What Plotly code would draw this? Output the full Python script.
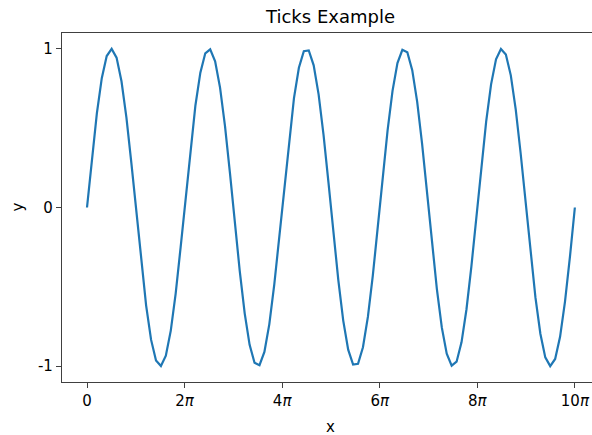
import plotly.graph_objects as go

x_vals = [0, 0.317, 0.635, 0.952, 1.269, 1.587, 1.904, 2.221, 2.539, 2.856,
          3.173, 3.491, 3.808, 4.125, 4.443, 4.760, 5.077, 5.395, 5.712, 6.029,
          6.347, 6.664, 6.981, 7.299, 7.616, 7.933, 8.251, 8.568, 8.885, 9.203,
          9.520, 9.837, 10.155, 10.472, 10.789, 11.107, 11.424, 11.741, 12.059, 12.376,
          12.693, 13.011, 13.328, 13.645, 13.963, 14.280, 14.597, 14.915, 15.232, 15.549,
          15.867, 16.184, 16.501, 16.819, 17.136, 17.453, 17.771, 18.088, 18.405, 18.723,
          19.040, 19.357, 19.675, 19.992, 20.309, 20.627, 20.944, 21.261, 21.579, 21.896,
          22.213, 22.531, 22.848, 23.165, 23.483, 23.800, 24.117, 24.435, 24.752, 25.069,
          25.387, 25.704, 26.021, 26.339, 26.656, 26.973, 27.291, 27.608, 27.925, 28.243,
          28.560, 28.877, 29.195, 29.512, 29.829, 30.147, 30.464, 30.781, 31.099, 31.416]

y_vals = [0.000, 0.312, 0.593, 0.815, 0.955, 1.000, 0.945, 0.796, 0.567, 0.282,
          -0.032, -0.342, -0.618, -0.833, -0.964, -0.999, -0.934, -0.776, -0.541, -0.251,
          0.063, 0.372, 0.643, 0.850, 0.972, 0.997, 0.922, 0.756, 0.514, 0.220,
          -0.095, -0.401, -0.667, -0.866, -0.979, -0.994, -0.910, -0.735, -0.486, -0.189,
          0.127, 0.430, 0.690, 0.881, 0.985, 0.990, 0.896, 0.713, 0.458, 0.158,
          -0.158, -0.458, -0.713, -0.896, -0.990, -0.985, -0.881, -0.690, -0.430, -0.127,
          0.189, 0.486, 0.735, 0.910, 0.994, 0.979, 0.866, 0.667, 0.401, 0.095,
          -0.220, -0.514, -0.756, -0.922, -0.997, -0.972, -0.850, -0.643, -0.372, -0.063,
          0.251, 0.541, 0.776, 0.934, 0.999, 0.964, 0.833, 0.618, 0.342, 0.032,
          -0.282, -0.567, -0.796, -0.945, -1.000, -0.955, -0.815, -0.593, -0.312, 0.000]

x_tick_vals = [0, 6.2832, 12.5664, 18.8496, 25.1327, 31.4159]
x_tick_text = ["0", "2<i>π</i>", "4<i>π</i>", "6<i>π</i>", "8<i>π</i>", "10<i>π</i>"]
y_tick_vals = [1, 0, -1]
y_tick_text = ["1", "0", "-1"]

FONT = "DejaVu Sans"
AX_COLOR = "#404040"

fig = go.Figure()
fig.add_trace(go.Scatter(x=x_vals, y=y_vals, mode="lines",
                         line=dict(color="#1f77b4", width=2.2),
                         hoverinfo="skip", showlegend=False))

fig.update_layout(
    width=592, height=435,
    margin=dict(l=62, r=0, t=33, b=53),
    paper_bgcolor="white", plot_bgcolor="white",
    font=dict(family=FONT, size=15, color="black"),
    title=dict(text="Ticks Example", font=dict(family=FONT, size=18, color="black"),
               xref="container", x=330.5 / 592, xanchor="center",
               yref="container", y=1 - 17 / 435, yanchor="middle"),
    xaxis=dict(range=[-1.61, 32.52], tickmode="array", tickvals=x_tick_vals,
               ticktext=x_tick_text, showgrid=False, zeroline=False,
               showline=True, linecolor=AX_COLOR, linewidth=1.2, mirror=True,
               ticks="outside", ticklen=5, tickcolor=AX_COLOR, tickwidth=1.2,
               tickfont=dict(family=FONT, size=15, color="black")),
    yaxis=dict(range=[-1.1, 1.1], tickmode="array", tickvals=y_tick_vals,
               ticktext=y_tick_text, showgrid=False, zeroline=False,
               showline=True, linecolor=AX_COLOR, linewidth=1.2, mirror=False,
               ticks="outside", ticklen=5, tickcolor=AX_COLOR, tickwidth=1.2,
               tickfont=dict(family=FONT, size=15, color="black")),
    annotations=[
        dict(text="x", xref="paper", yref="paper", x=(330 - 62) / 530, y=(382 - 427) / 349,
             xanchor="center", yanchor="middle", showarrow=False,
             font=dict(family=FONT, size=15, color="black")),
        dict(text="y", xref="paper", yref="paper", x=(17 - 62) / 530, y=0.5,
             xanchor="center", yanchor="middle", showarrow=False, textangle=-90,
             font=dict(family=FONT, size=15, color="black")),
    ],
)

fig.write_html("out.html")
